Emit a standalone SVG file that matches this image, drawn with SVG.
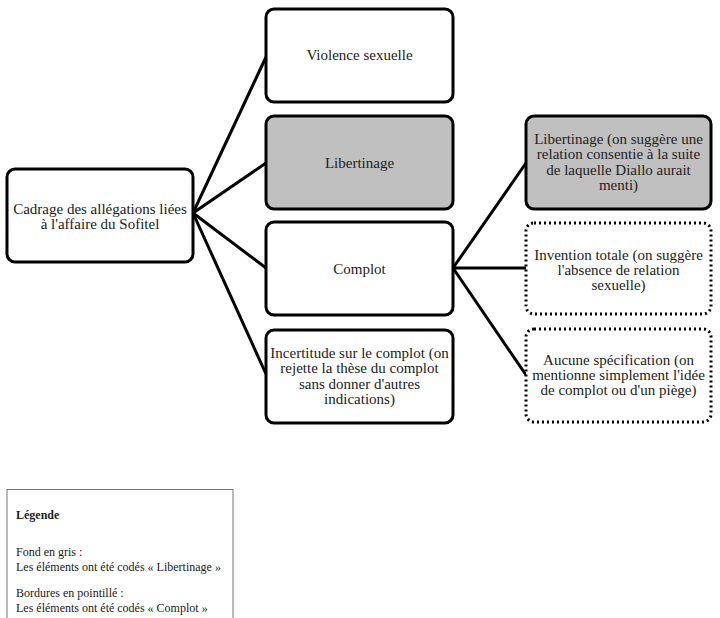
<svg xmlns="http://www.w3.org/2000/svg" width="720" height="618" viewBox="0 0 720 618">
<style>
.box{fill:#fff;stroke:#000;stroke-width:3}
.gray{fill:#c0c0c0}
.dot{stroke-dasharray:2 3;stroke-width:3}
.t{font-family:"Liberation Serif","Times New Roman",serif;font-size:15px;fill:#222;text-anchor:middle}
.l{font-family:"Liberation Serif","Times New Roman",serif;font-size:12px;fill:#222}
.c{stroke:#000;stroke-width:3;fill:none}
</style>
<rect width="720" height="618" fill="#fff"/>
<g id="connectors">
<line class="c" x1="193" y1="213" x2="266" y2="57"/>
<line class="c" x1="193" y1="213" x2="266" y2="163"/>
<line class="c" x1="193" y1="213" x2="266" y2="268"/>
<line class="c" x1="193" y1="213" x2="266" y2="374"/>
<line class="c" x1="453" y1="268" x2="526" y2="163"/>
<line class="c" x1="453" y1="268" x2="526" y2="268"/>
<line class="c" x1="453" y1="268" x2="526" y2="375"/>
</g>
<g id="root">
<rect class="box" x="7" y="169" width="186" height="93" rx="8"/>
<text class="t" x="100" y="214">Cadrage des allégations liées</text>
<text class="t" x="100" y="229">à l'affaire du Sofitel</text>
</g>
<g id="violence">
<rect class="box" x="266" y="9" width="187" height="93" rx="8"/>
<text class="t" x="359.5" y="60">Violence sexuelle</text>
</g>
<g id="libertinage">
<rect class="box gray" x="266" y="116" width="187" height="93" rx="8"/>
<text class="t" x="359.5" y="168">Libertinage</text>
</g>
<g id="complot">
<rect class="box" x="266" y="222" width="187" height="93" rx="8"/>
<text class="t" x="359.5" y="274">Complot</text>
</g>
<g id="incertitude">
<rect class="box" x="266" y="330" width="187" height="93" rx="8"/>
<text class="t" x="359.5" y="358">Incertitude sur le complot (on</text>
<text class="t" x="359.5" y="373">rejette la thèse du complot</text>
<text class="t" x="359.5" y="389">sans donner d'autres</text>
<text class="t" x="359.5" y="404">indications)</text>
</g>
<g id="libertinage2">
<rect class="box gray" x="526" y="116" width="185" height="93" rx="8"/>
<text class="t" x="618.5" y="144">Libertinage (on suggère une</text>
<text class="t" x="618.5" y="159">relation consentie à la suite</text>
<text class="t" x="618.5" y="175">de laquelle Diallo aurait</text>
<text class="t" x="618.5" y="190">menti)</text>
</g>
<g id="invention">
<rect class="box dot" x="526" y="223" width="185" height="91" rx="8"/>
<text class="t" x="618.5" y="260">Invention totale (on suggère</text>
<text class="t" x="618.5" y="275">l'absence de relation</text>
<text class="t" x="618.5" y="290">sexuelle)</text>
</g>
<g id="aucune">
<rect class="box dot" x="526" y="329" width="185" height="93" rx="8"/>
<text class="t" x="618.5" y="365">Aucune spécification (on</text>
<text class="t" x="618.5" y="380">mentionne simplement l'idée</text>
<text class="t" x="618.5" y="395">de complot ou d'un piège)</text>
</g>
<g id="legende">
<rect x="7" y="489.5" width="226" height="140" fill="#fff" stroke="#777" stroke-width="1"/>
<text class="l" x="16" y="519" font-weight="bold">Légende</text>
<text class="l" x="16" y="556">Fond en gris :</text>
<text class="l" x="16" y="571">Les éléments ont été codés « Libertinage »</text>
<text class="l" x="16" y="597">Bordures en pointillé :</text>
<text class="l" x="16" y="612">Les éléments ont été codés « Complot »</text>
</g>
</svg>
